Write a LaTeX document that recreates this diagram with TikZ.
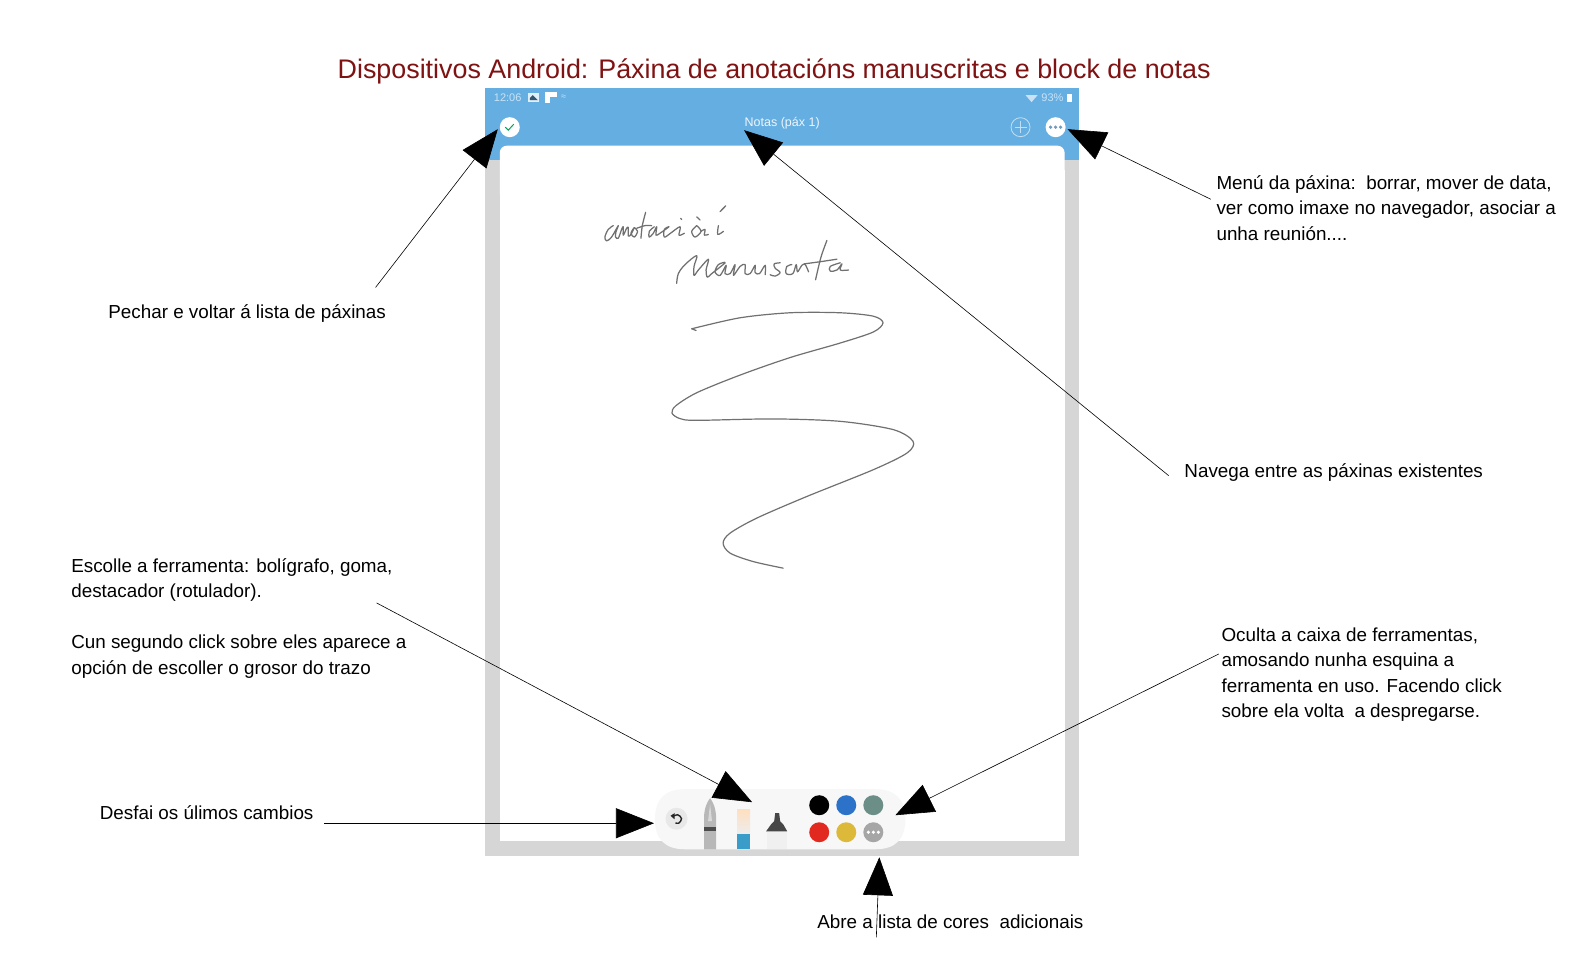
\documentclass[tikz,border=0pt]{standalone}
\usepackage{fontspec}
\setmainfont{Liberation Sans}
\usetikzlibrary{arrows.meta}
\definecolor{topblue}{HTML}{65AEE2}
\definecolor{framegray}{HTML}{D6D6D6}
\definecolor{titlered}{HTML}{7F1212}
\definecolor{inkgray}{HTML}{707070}
\definecolor{dotblue}{HTML}{2C72C8}
\definecolor{dotteal}{HTML}{6B8F87}
\definecolor{dotred}{HTML}{E2291F}
\definecolor{dotyellow}{HTML}{DDB93A}
\definecolor{eraserblue}{HTML}{3A9CC8}
\tikzset{
  x=1.0015pt,y=-1.0015pt,
  note/.style={anchor=north west,inner sep=0pt,align=left,text=black,font=\fontsize{18.84}{25.5}\selectfont},
  callout/.style={draw=black,line width=0.6pt,-{Triangle[length=38pt,width=30pt,fill=black]}},
  dotc/.style={circle,inner sep=0pt,minimum size=20pt},
  hand/.style={draw=inkgray,line width=1.2pt,line cap=round,line join=round},
  handthin/.style={draw=inkgray,line width=1.25pt,line cap=round,line join=round},
  status/.style={inner sep=0pt,text=white!65!topblue,font=\fontsize{11}{12}\selectfont},
}
\begin{document}
\begin{tikzpicture}
\useasboundingbox (0,0) rectangle (1567.65,956.56);
\fill[white] (0,0) rectangle (1567.65,956.56);
% device frame
\fill[framegray] (484,150) rectangle (1077,855);
\fill[topblue] (484,88) rectangle (1077,160);
\fill[white,rounded corners=7pt] (499,145.5) rectangle (1063,200);
\fill[white] (499,170) rectangle (1063,840);
% status bar
\node[status,anchor=west] (clock) at (493,97.5) {12:06};
\fill[white!80!topblue] (527,93) rectangle (538,102);
\fill[topblue!50!black] (529,98) -- (532,95) -- (535,98) -- (537,100) -- (529,100) -- cycle;
\fill[white] (544,92) rectangle (556,103);
\fill[topblue] (549,97) rectangle (556,103);
\node[status,anchor=west] (sig) at (560,97.5) {\fontsize{9}{9}\selectfont ≈};
\node[status,anchor=east] (batt) at (1062,97.5) {93\%};
\fill[white!65!topblue] (1024,95) -- (1036,95) -- (1030,102) -- cycle;
\fill[white] (1065,94) rectangle (1070,102);
% header
\node[inner sep=0pt,text=white!88!topblue,font=\fontsize{12.5}{14}\selectfont] (notas) at (781,123.5) {Notas (páx 1)};
\node[circle,fill=white,inner sep=0pt,minimum size=20pt] (check) at (509,127) {};
\draw[teal!70!green,line width=1pt] (504.5,127) -- (507.5,130) -- (513,124);
\node[circle,draw=white!60!topblue,line width=0.8pt,inner sep=0pt,minimum size=19pt] (plus) at (1019,127) {};
\draw[white!60!topblue,line width=0.8pt] (1013,127) -- (1025,127) (1019,121) -- (1019,133);
\node[circle,fill=white,inner sep=0pt,minimum size=20pt] (more) at (1054,127) {};
\foreach \xx in {1049,1054,1059} \fill[topblue!60!gray] (\xx,127) circle[radius=1.8];
% toolbar
\fill[white!97!black] (654,818) .. controls (654,798) and (664,788) .. (684,788) -- (874,788) .. controls (894,788) and (904,798) .. (904,818) .. controls (904,838) and (894,848) .. (874,848) -- (684,848) .. controls (664,848) and (654,838) .. (654,818) -- cycle;
\node[circle,fill=black!9,inner sep=0pt,minimum size=22pt] (undo) at (675.5,817.5) {};
\draw[black!85,line width=1.4pt] plot[smooth,tension=0.7] coordinates {(671.5,815.5)(676.5,813.5)(680.5,817.5)(677.5,822)(674.5,821.5)};
\fill[black!85] (669.5,814.5) -- (673.5,812) -- (673.5,818) -- cycle;
% pen
\fill[black!28] (703,848) -- (703,815) .. controls (703.5,806) and (706.5,800) .. (709,797) .. controls (711.5,800) and (714.5,806) .. (715,815) -- (715,848) -- cycle;
\fill[white!85!black] (707,820) -- (709,803) -- (711,820) -- cycle;
\fill[black!70] (703,826) rectangle (715,829.5);
% eraser
\shade[top color=orange!25!white,bottom color=black!7] (736,808) rectangle (749,833);
\fill[eraserblue] (736,833) rectangle (749,848);
% marker
\fill[black!6] (766,830) rectangle (786,848);
\fill[black!72] (765,830) -- (770,823) -- (773,820) -- (774,812) -- (778,812) -- (779,820) -- (782,823) -- (786,830) -- cycle;
% colour dots
\node[dotc,fill=black] (cblack) at (818,804) {};
\node[dotc,fill=dotblue] (cblue) at (845,804) {};
\node[dotc,fill=dotteal] (cteal) at (872,804) {};
\node[dotc,fill=dotred] (cred) at (818,831) {};
\node[dotc,fill=dotyellow] (cyellow) at (845,831) {};
\node[dotc,fill=black!35] (cmore) at (872,831) {};
\foreach \xx in {867,872,877} \fill[white] (\xx,831) circle[radius=1.8];
% handwriting: first word
\begin{scope}[shift={(594,193)},xscale=1/3,yscale=0.38]
\draw[handthin] plot[smooth,tension=0.55] coordinates {(55,85)(40,95)(30,115)(35,125)(50,115)(70,85)(63,102)(62,115)(70,118)(80,95)(85,88)(85,110)(95,92)(100,90)(100,112)(108,108)(118,90)(108,105)(118,115)(128,100)(118,90)};
\draw[handthin] plot[smooth,tension=0.5] coordinates {(152,50)(142,85)(138,118)};
\draw[handthin] plot[smooth,tension=0.5] coordinates {(125,92)(150,85)(170,85)};
\draw[handthin] plot[smooth,tension=0.55] coordinates {(178,88)(163,100)(163,115)(175,105)(185,88)(183,110)(195,105)(222,88)(208,95)(208,115)(225,106)(255,88)(252,110)(268,105)};
\draw[handthin] (257,66) -- (260,69);
\draw[handthin] plot[smooth,tension=0.55] coordinates {(305,85)(290,100)(300,115)(318,100)(305,85)};
\draw[handthin] plot[smooth,tension=0.55] coordinates {(318,100)(330,95)(328,110)(340,108)};
\draw[handthin] (305,62) -- (315,70);
\draw[handthin] plot[smooth,tension=0.55] coordinates {(370,85)(368,108)(385,100)};
\draw[handthin] (375,48) -- (392,33);
\end{scope}
% handwriting: second word
\begin{scope}[shift={(669,239)},xscale=1/3,yscale=0.36]
\draw[handthin] plot[smooth,tension=0.55] coordinates {(20,122)(25,95)(45,70)(80,45)(72,75)(72,100)(85,85)(115,55)(108,85)(112,105)(125,95)(165,65)(145,70)(135,90)(150,100)(168,72)(165,95)(180,95)(195,70)(190,100)(210,75)(225,70)(225,95)(240,95)(255,72)(255,92)(268,95)(285,72)(285,98)};
\draw[handthin] plot[smooth,tension=0.55] coordinates {(330,65)(312,68)(315,80)(330,92)(315,102)(300,98)};
\draw[handthin] plot[smooth,tension=0.55] coordinates {(365,70)(350,75)(348,95)(368,95)(378,70)(382,90)(395,72)(405,70)(415,90)};
\draw[handthin] plot[smooth,tension=0.5] coordinates {(470,3)(452,50)(436,112)};
\draw[handthin] plot[smooth,tension=0.5] coordinates {(402,68)(450,62)(500,55)};
\draw[handthin] plot[smooth,tension=0.55] coordinates {(510,65)(480,75)(480,88)(500,85)(515,68)(510,85)(535,85)};
\end{scope}
% scribble
\begin{scope}[shift={(-1,-1)}]
\draw[hand] plot[smooth,tension=0.5] coordinates {(691.7,329.3)(740,318.3)(790,313.3)(840,313.3)(873,316.7)(882.7,323.3)(873,332.5)(840,343.5)(790,358)(740,375.5)(697,393)(676,406)(672,413.5)(680,419)(696.7,420.7)(773,419.3)(840,421.7)(893,430)(912.7,441.7)(906.7,453.3)(873,470)(806.7,496.7)(756.7,518.3)(730,533.3)(723,543.3)(730,553.3)(753,561.7)(783,568.3)};
\draw[hand] (691.7,329.3) -- (696,331);
\end{scope}
% title
\node[inner sep=0pt,text=titlered,font=\fontsize{26.86}{30}\selectfont] (title) at (773,71) {Dispositivos Android: Páxina de anotacións manuscritas e block de notas};
% notes
\node[note] (n1) at (108,304) {Pechar e voltar á lista de páxinas};
\node[note] (n2) at (1214.5,175) {Menú da páxina:\ \ borrar, mover de data,\\ver como imaxe no navegador, asociar a\\unha reunión....};
\node[note] (n3) at (1182.5,463) {Navega entre as páxinas existentes};
\node[note] (n4) at (71,557.5) {Escolle a ferramenta: bolígrafo, goma,\\destacador (rotulador).\\[25.5pt]Cun segundo click sobre eles aparece a\\opción de escoller o grosor do trazo};
\node[note] (n5) at (99.5,804.5) {Desfai os úlimos cambios};
\node[note] (n6) at (1219.5,626.5) {Oculta a caixa de ferramentas,\\amosando nunha esquina a\\ferramenta en uso. Facendo click\\sobre ela volta\ \ a despregarse.};
\node[note] (n7) at (816,913.5) {Abre a lista de cores\ \ adicionais};
% connector ends
\coordinate (a1s) at (375,287); \coordinate (a1e) at (497,129);
\coordinate (a2s) at (1167,475); \coordinate (a2e) at (743,130);
\coordinate (a3s) at (1209,199); \coordinate (a3e) at (1066,129);
\coordinate (a4s) at (376,602); \coordinate (a4e) at (751,801);
\coordinate (a5s) at (324,822); \coordinate (a5e) at (653,822);
\coordinate (a6s) at (1217,653); \coordinate (a6e) at (894,814);
\coordinate (a7s) at (875,936); \coordinate (a7e) at (878,856);
\draw[callout] (a1s) -- (a1e);
\draw[callout] (a2s) -- (a2e);
\draw[callout] (a3s) -- (a3e);
\draw[callout] (a4s) -- (a4e);
\draw[callout] (a5s) -- (a5e);
\draw[callout] (a6s) -- (a6e);
\draw[callout] (a7s) -- (a7e);
\end{tikzpicture}
\end{document}
